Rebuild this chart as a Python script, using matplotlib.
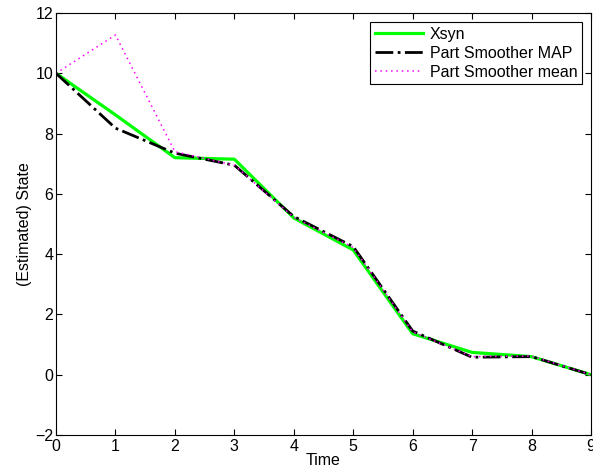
import numpy as np
import matplotlib
matplotlib.use("Agg")
import matplotlib.pyplot as plt

plt.rcParams['font.family'] = ['Liberation Sans', 'DejaVu Sans']

# Data
time = [0, 1, 2, 3, 4, 5, 6, 7, 8, 9]
xsyn = [10.0, 8.62, 7.2, 7.15, 5.2, 4.14, 1.36, 0.74, 0.6, 0.0]
map_est = [10.0, 8.18, 7.35, 6.95, 5.25, 4.25, 1.45, 0.58, 0.6, 0.0]
mean_est = [10.0, 11.27, 7.4, 6.95, 5.22, 4.22, 1.42, 0.6, 0.62, 0.0]

fs = 11.5

fig = plt.figure(figsize=(5.93, 4.76), dpi=100)
ax = fig.add_axes([56 / 593, 1 - 435 / 476, 535 / 593, 422 / 476])

ax.plot(time, xsyn, color="#00ff00", lw=2.3, label="Xsyn")
ax.plot(time, map_est, color="black", lw=2.0, ls="-.", label="Part Smoother MAP")
ax.plot(time, mean_est, color="magenta", lw=1.1, ls=(0, (1, 2.5)), label="Part Smoother mean")

ax.set_xlim(0, 9)
ax.set_ylim(-2, 12)
ax.set_xticks(range(0, 10))
ax.set_yticks(range(-2, 13, 2))
ax.tick_params(direction="in", top=True, right=True, labelsize=fs, length=4, pad=3)
ax.tick_params(axis="y", pad=2)
for s in ax.spines.values():
    s.set_linewidth(0.8)

ax.set_xlabel("Time", fontsize=fs, labelpad=-1)
ax.set_ylabel("(Estimated) State", fontsize=fs, labelpad=2)

leg = ax.legend(loc="upper right", fontsize=fs, fancybox=False, framealpha=1,
                edgecolor="black", borderpad=0.3, handlelength=3.0,
                handletextpad=0.45, labelspacing=0.25, borderaxespad=0.55)
leg.get_frame().set_linewidth(0.8)

fig.savefig("out.png", dpi=100)
